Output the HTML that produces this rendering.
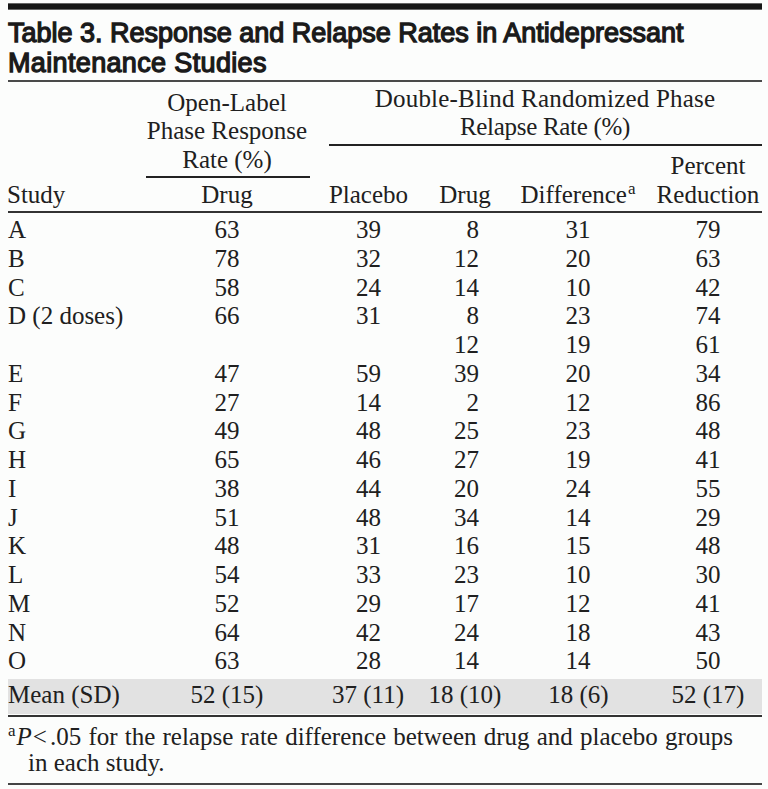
<!DOCTYPE html>
<html><head><meta charset="utf-8"><style>
html,body{margin:0;padding:0;background:#fcfdfc;}
body{width:768px;height:789px;position:relative;overflow:hidden;color:#202020;}
.s{position:absolute;font-family:"Liberation Serif",serif;font-size:25px;line-height:30px;white-space:nowrap;}
.c{width:400px;text-align:center;}
.r{width:400px;text-align:right;}
.t{position:absolute;font-family:"Liberation Sans",sans-serif;font-weight:normal;font-size:27px;line-height:30px;white-space:nowrap;color:#1a1a1a;-webkit-text-stroke:1.3px #1a1a1a;}
.rule{position:absolute;}
.band{position:absolute;left:8px;top:679px;width:754px;height:35px;background:#e2e2e2;}
.sup{font-size:17px;position:relative;top:-9px;margin-left:1px;}
.sup2{font-size:17px;position:relative;top:-9px;margin-right:1px;}
</style></head><body>
<div class="band"></div>
<div class="rule" style="left:8px;top:3px;width:754px;height:7px;background:linear-gradient(#666 0,#666 1px,#171717 1px,#171717 6px,#666 6px)"></div>
<div class="rule" style="left:8px;top:80px;width:754px;height:2px;background:#4a4a4a"></div>
<div class="rule" style="left:146px;top:176px;width:164px;height:2px;background:#222"></div>
<div class="rule" style="left:329px;top:144px;width:433px;height:2px;background:#222"></div>
<div class="rule" style="left:8px;top:211px;width:754px;height:2px;background:#333"></div>
<div class="rule" style="left:8px;top:715px;width:754px;height:2px;background:#333"></div>
<div class="rule" style="left:8px;top:783px;width:754px;height:2px;background:#444"></div>
<div class="t" style="left:8px;top:17.6px;letter-spacing:0px">Table 3. Response and Relapse Rates in Antidepressant</div>
<div class="t" style="left:8px;top:47.6px;letter-spacing:0.35px">Maintenance Studies</div>
<div class="s c" style="left:27.0px;top:87.6px;">Open-Label</div>
<div class="s c" style="left:27.0px;top:116.1px;">Phase Response</div>
<div class="s c" style="left:27.0px;top:144.6px;">Rate (%)</div>
<div class="s c" style="left:345.0px;top:84.1px;letter-spacing:0.2px">Double-Blind Randomized Phase</div>
<div class="s c" style="left:345.0px;top:112.1px;letter-spacing:-0.3px">Relapse Rate (%)</div>
<div class="s c" style="left:508.0px;top:151.1px;">Percent</div>
<div class="s" style="left:7.0px;top:180.1px;">Study</div>
<div class="s c" style="left:27.0px;top:180.1px;">Drug</div>
<div class="s c" style="left:168.5px;top:180.1px;">Placebo</div>
<div class="s c" style="left:265.0px;top:180.1px;">Drug</div>
<div class="s c" style="left:378.0px;top:180.1px;">Difference<span class="sup">a</span></div>
<div class="s c" style="left:508.0px;top:180.1px;">Reduction</div>
<div class="s" style="left:8.0px;top:215.1px;">A</div>
<div class="s c" style="left:27.0px;top:215.1px;">63</div>
<div class="s c" style="left:168.5px;top:215.1px;">39</div>
<div class="s r" style="left:79.0px;top:215.1px;">8</div>
<div class="s c" style="left:378.0px;top:215.1px;">31</div>
<div class="s c" style="left:508.0px;top:215.1px;">79</div>
<div class="s" style="left:8.0px;top:243.8px;">B</div>
<div class="s c" style="left:27.0px;top:243.8px;">78</div>
<div class="s c" style="left:168.5px;top:243.8px;">32</div>
<div class="s r" style="left:79.0px;top:243.8px;">12</div>
<div class="s c" style="left:378.0px;top:243.8px;">20</div>
<div class="s c" style="left:508.0px;top:243.8px;">63</div>
<div class="s" style="left:8.0px;top:272.6px;">C</div>
<div class="s c" style="left:27.0px;top:272.6px;">58</div>
<div class="s c" style="left:168.5px;top:272.6px;">24</div>
<div class="s r" style="left:79.0px;top:272.6px;">14</div>
<div class="s c" style="left:378.0px;top:272.6px;">10</div>
<div class="s c" style="left:508.0px;top:272.6px;">42</div>
<div class="s" style="left:8.0px;top:301.4px;">D (2 doses)</div>
<div class="s c" style="left:27.0px;top:301.4px;">66</div>
<div class="s c" style="left:168.5px;top:301.4px;">31</div>
<div class="s r" style="left:79.0px;top:301.4px;">8</div>
<div class="s c" style="left:378.0px;top:301.4px;">23</div>
<div class="s c" style="left:508.0px;top:301.4px;">74</div>
<div class="s r" style="left:79.0px;top:330.1px;">12</div>
<div class="s c" style="left:378.0px;top:330.1px;">19</div>
<div class="s c" style="left:508.0px;top:330.1px;">61</div>
<div class="s" style="left:8.0px;top:358.9px;">E</div>
<div class="s c" style="left:27.0px;top:358.9px;">47</div>
<div class="s c" style="left:168.5px;top:358.9px;">59</div>
<div class="s r" style="left:79.0px;top:358.9px;">39</div>
<div class="s c" style="left:378.0px;top:358.9px;">20</div>
<div class="s c" style="left:508.0px;top:358.9px;">34</div>
<div class="s" style="left:8.0px;top:387.6px;">F</div>
<div class="s c" style="left:27.0px;top:387.6px;">27</div>
<div class="s c" style="left:168.5px;top:387.6px;">14</div>
<div class="s r" style="left:79.0px;top:387.6px;">2</div>
<div class="s c" style="left:378.0px;top:387.6px;">12</div>
<div class="s c" style="left:508.0px;top:387.6px;">86</div>
<div class="s" style="left:8.0px;top:416.4px;">G</div>
<div class="s c" style="left:27.0px;top:416.4px;">49</div>
<div class="s c" style="left:168.5px;top:416.4px;">48</div>
<div class="s r" style="left:79.0px;top:416.4px;">25</div>
<div class="s c" style="left:378.0px;top:416.4px;">23</div>
<div class="s c" style="left:508.0px;top:416.4px;">48</div>
<div class="s" style="left:8.0px;top:445.1px;">H</div>
<div class="s c" style="left:27.0px;top:445.1px;">65</div>
<div class="s c" style="left:168.5px;top:445.1px;">46</div>
<div class="s r" style="left:79.0px;top:445.1px;">27</div>
<div class="s c" style="left:378.0px;top:445.1px;">19</div>
<div class="s c" style="left:508.0px;top:445.1px;">41</div>
<div class="s" style="left:8.0px;top:473.9px;">I</div>
<div class="s c" style="left:27.0px;top:473.9px;">38</div>
<div class="s c" style="left:168.5px;top:473.9px;">44</div>
<div class="s r" style="left:79.0px;top:473.9px;">20</div>
<div class="s c" style="left:378.0px;top:473.9px;">24</div>
<div class="s c" style="left:508.0px;top:473.9px;">55</div>
<div class="s" style="left:8.0px;top:502.6px;">J</div>
<div class="s c" style="left:27.0px;top:502.6px;">51</div>
<div class="s c" style="left:168.5px;top:502.6px;">48</div>
<div class="s r" style="left:79.0px;top:502.6px;">34</div>
<div class="s c" style="left:378.0px;top:502.6px;">14</div>
<div class="s c" style="left:508.0px;top:502.6px;">29</div>
<div class="s" style="left:8.0px;top:531.4px;">K</div>
<div class="s c" style="left:27.0px;top:531.4px;">48</div>
<div class="s c" style="left:168.5px;top:531.4px;">31</div>
<div class="s r" style="left:79.0px;top:531.4px;">16</div>
<div class="s c" style="left:378.0px;top:531.4px;">15</div>
<div class="s c" style="left:508.0px;top:531.4px;">48</div>
<div class="s" style="left:8.0px;top:560.1px;">L</div>
<div class="s c" style="left:27.0px;top:560.1px;">54</div>
<div class="s c" style="left:168.5px;top:560.1px;">33</div>
<div class="s r" style="left:79.0px;top:560.1px;">23</div>
<div class="s c" style="left:378.0px;top:560.1px;">10</div>
<div class="s c" style="left:508.0px;top:560.1px;">30</div>
<div class="s" style="left:8.0px;top:588.9px;">M</div>
<div class="s c" style="left:27.0px;top:588.9px;">52</div>
<div class="s c" style="left:168.5px;top:588.9px;">29</div>
<div class="s r" style="left:79.0px;top:588.9px;">17</div>
<div class="s c" style="left:378.0px;top:588.9px;">12</div>
<div class="s c" style="left:508.0px;top:588.9px;">41</div>
<div class="s" style="left:8.0px;top:617.6px;">N</div>
<div class="s c" style="left:27.0px;top:617.6px;">64</div>
<div class="s c" style="left:168.5px;top:617.6px;">42</div>
<div class="s r" style="left:79.0px;top:617.6px;">24</div>
<div class="s c" style="left:378.0px;top:617.6px;">18</div>
<div class="s c" style="left:508.0px;top:617.6px;">43</div>
<div class="s" style="left:8.0px;top:646.4px;">O</div>
<div class="s c" style="left:27.0px;top:646.4px;">63</div>
<div class="s c" style="left:168.5px;top:646.4px;">28</div>
<div class="s r" style="left:79.0px;top:646.4px;">14</div>
<div class="s c" style="left:378.0px;top:646.4px;">14</div>
<div class="s c" style="left:508.0px;top:646.4px;">50</div>
<div class="s" style="left:8.0px;top:679.6px;">Mean (SD)</div>
<div class="s c" style="left:27.0px;top:679.6px;">52 (15)</div>
<div class="s c" style="left:168.0px;top:679.6px;">37 (11)</div>
<div class="s c" style="left:265.0px;top:679.6px;">18 (10)</div>
<div class="s c" style="left:378.5px;top:679.6px;">18 (6)</div>
<div class="s c" style="left:508.0px;top:679.6px;">52 (17)</div>
<div class="s" style="left:8.0px;top:721.8px;word-spacing:0.95px"><span class="sup2">a</span><i>P</i><span style="margin:0 3px 0 1px">&lt;</span>.05 for the relapse rate difference between drug and placebo groups</div>
<div class="s" style="left:28.0px;top:748.4px;">in each study.</div>
</body></html>
